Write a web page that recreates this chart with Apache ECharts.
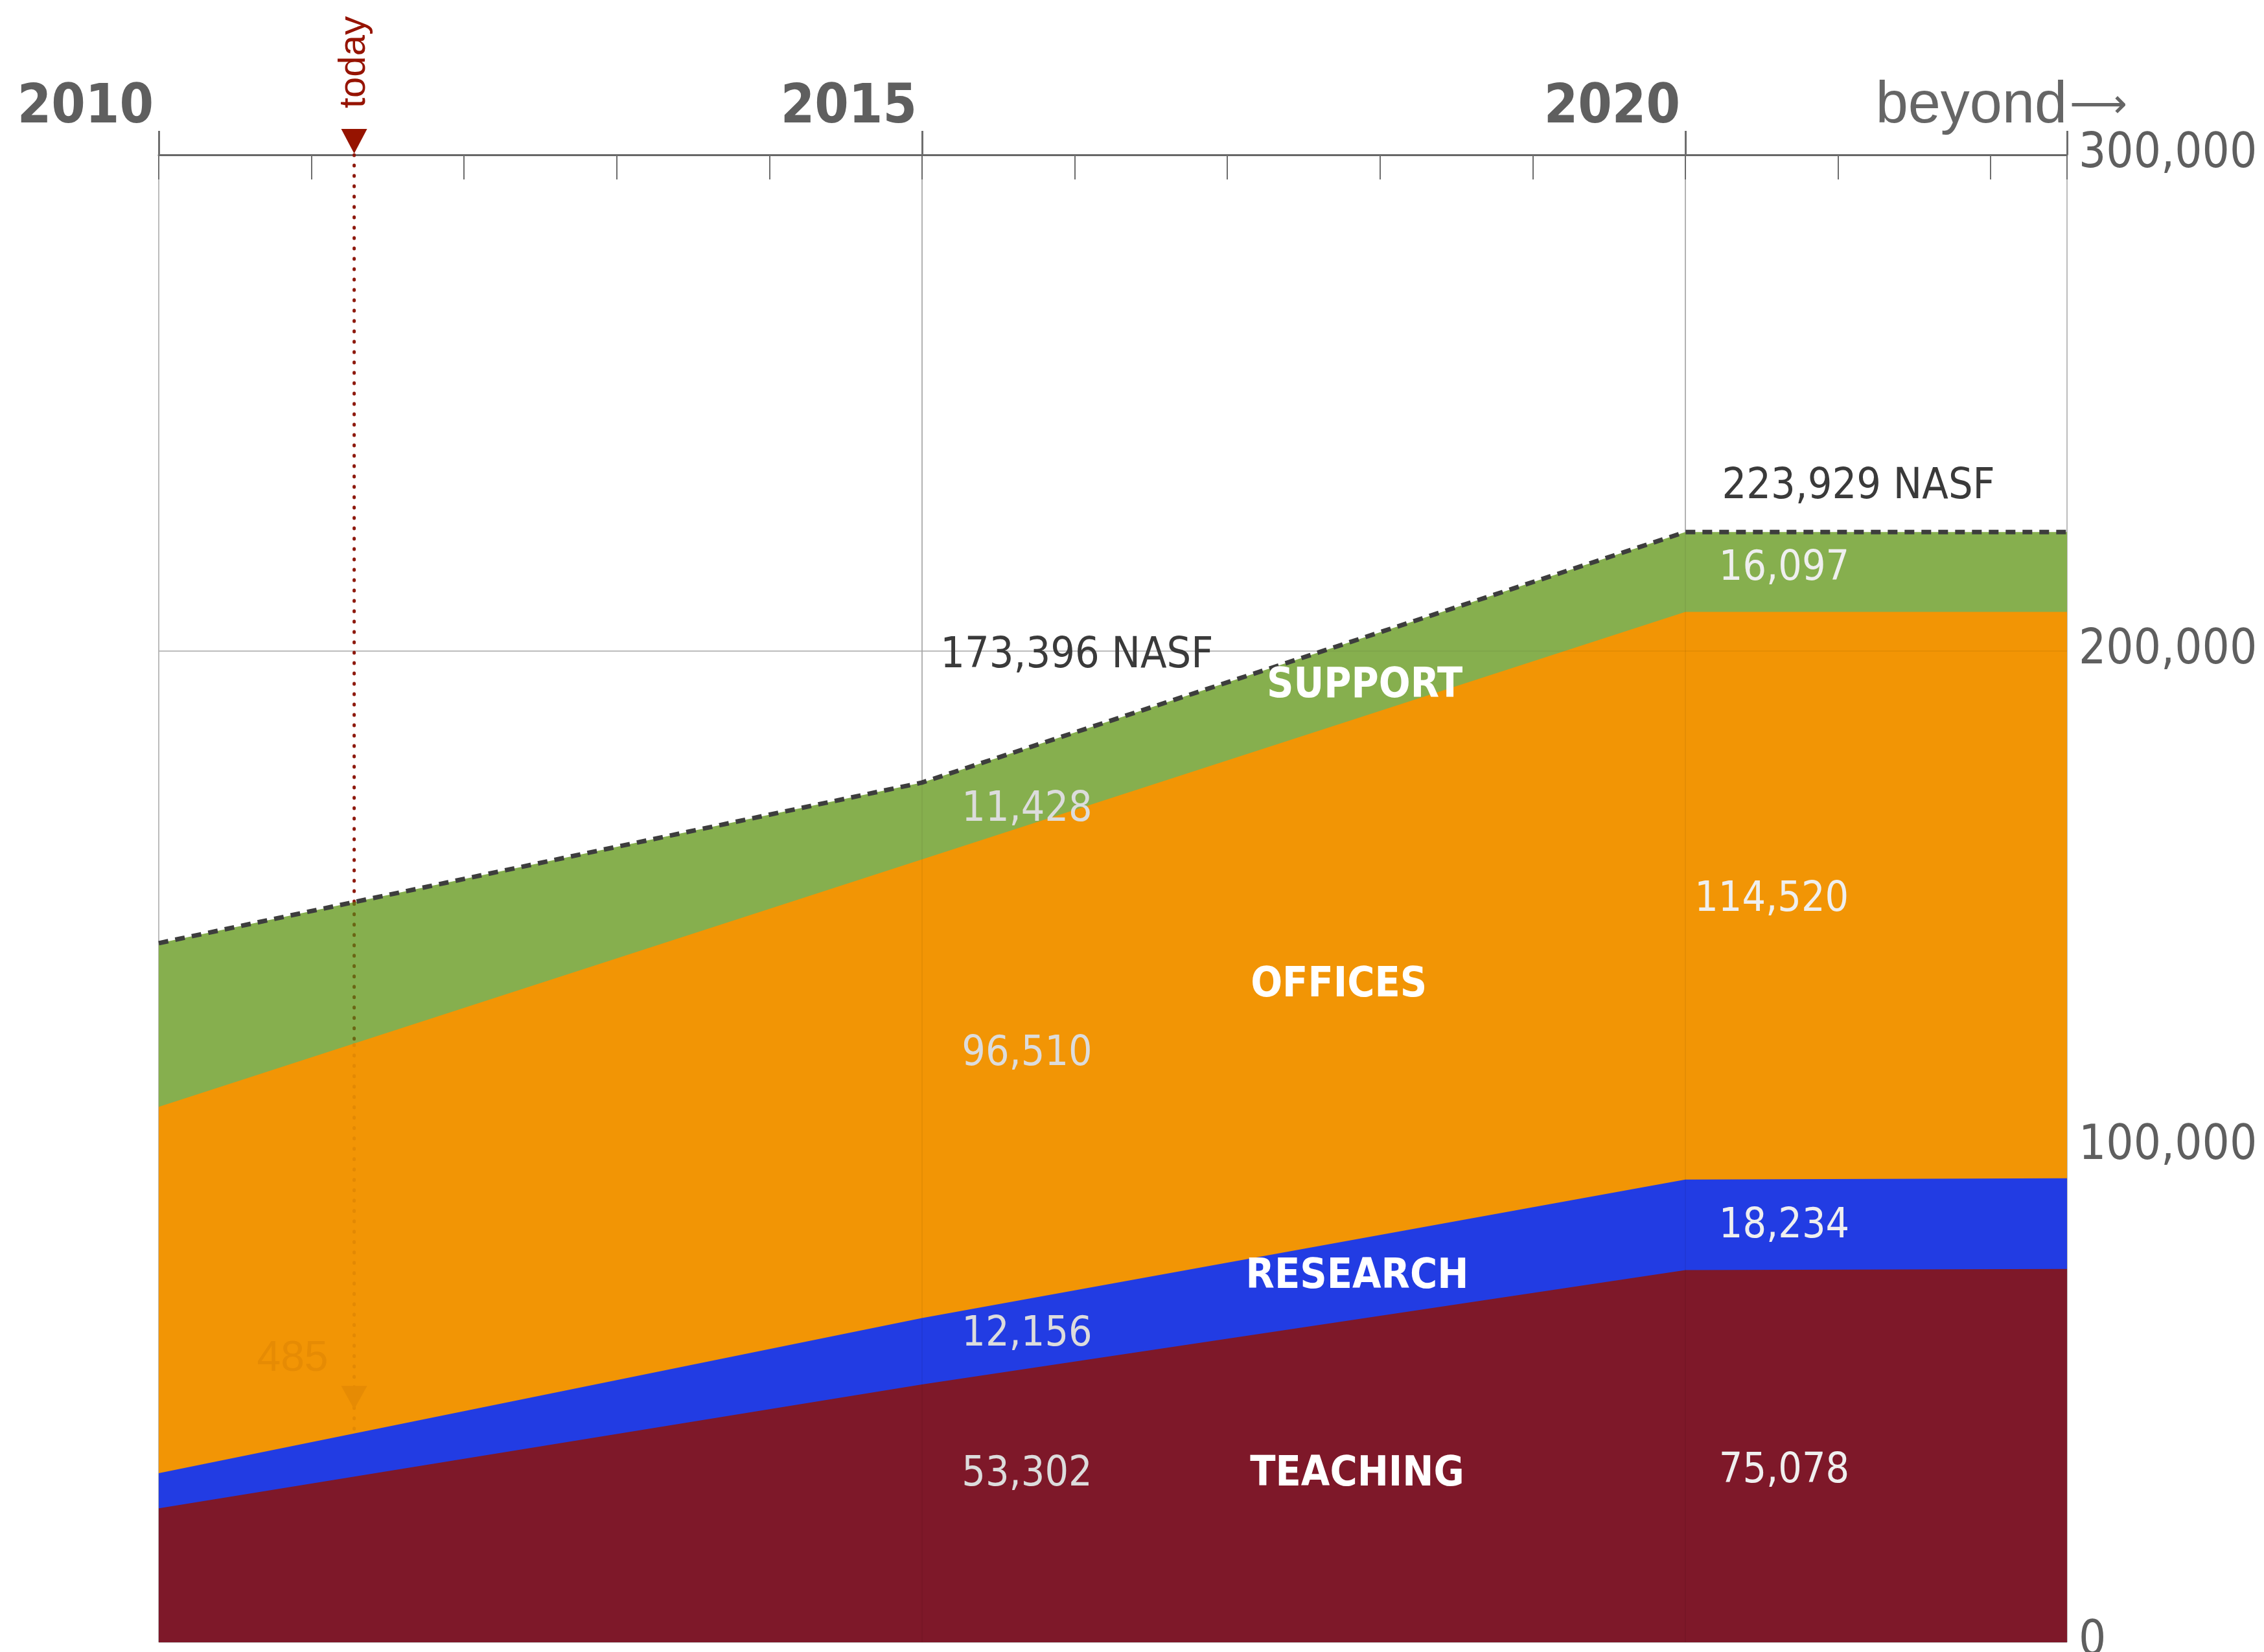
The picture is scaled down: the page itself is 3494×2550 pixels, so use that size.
<!DOCTYPE html>
<html>
<head>
<meta charset="utf-8">
<title>NASF projection</title>
<script src="https://cdn.jsdelivr.net/npm/echarts@6.0.0/dist/echarts.min.js"></script>
<style>
    html, body { margin: 0; padding: 0; background: #fff; }
    #main { width: 3494px; height: 2550px; }
</style>
</head>
<body>
<div id="main"></div>
<script>
// data points along the time axis, 2022.5 is the "beyond" edge
var years = [2010, 2015, 2020, 2022.5];
var teaching = [27000, 52000, 75078, 75300];
var research = [7100, 13400, 18234, 18300];
var offices = [73900, 92500, 114520, 114232];
var support = [33000, 15496, 16097, 16097];

var tickYears = [2010, 2011, 2012, 2013, 2014, 2015, 2016, 2017, 2018, 2019, 2020, 2021, 2022, 2022.5];
var labelYears = [2010, 2015, 2020, 2022.5];
var yMax = 300000;
var yStep = 100000;

// "today" marker
var todayYear = 2011.28;
var todayStops = [300000, 149000, 120500, 42000];
var lowMarkValue = 47000;
var lowMarkText = '485';

// annotations inside the chart
var noteText = ['223,929 NASF', '173,396 NASF', '16,097', '11,428', 'SUPPORT', '114,520', 'OFFICES',
    '96,510', '18,234', 'RESEARCH', '12,156', '75,078', 'TEACHING', '53,302'];
var noteX = [2020.24, 2015.12, 2020.22, 2015.26, 2017.90, 2020.06, 2017.73,
    2015.26, 2020.22, 2017.85, 2015.26, 2020.22, 2017.85, 2015.26];
var noteY = [233000, 198950, 216400, 167800, 192800, 149700, 132500,
    118550, 83900, 73700, 62000, 34400, 33800, 33800];
var noteKind = ['total', 'total', 'num20', 'num15', 'name', 'num20', 'name',
    'num15', 'num20', 'name', 'num15', 'num20', 'name', 'num15'];

var FONT = "'Liberation Sans Narrow', 'DejaVu Sans Condensed', Roboto, sans-serif";

init();

function init() {
    var chart = echarts.init(document.getElementById('main'));
    chart.setOption(buildOption());
}

// running totals, layer by layer (stack with a value x axis would sum the years)
function layerTops(layers) {
    var run = years.map(function () { return 0; });
    return layers.map(function (layer) {
        run = run.map(function (v, i) { return v + layer[i]; });
        return run.slice();
    });
}

function pairs(values) {
    return years.map(function (y, i) {
        return [y, values[i]];
    });
}

function areaSeries(name, values, color, extra) {
    var s = {
        name: name,
        type: 'line',
        symbol: 'none',
        silent: true,
        z: 2,
        data: pairs(values),
        lineStyle: {width: 0},
        areaStyle: {color: color, opacity: 1, origin: 'start'}
    };
    return Object.assign(s, extra || {});
}

function todaySegment(from, to, color, extra) {
    var s = {
        type: 'line',
        symbol: 'none',
        silent: true,
        z: 4,
        data: [[todayYear, from], [todayYear, to]],
        lineStyle: {color: color, width: 5, type: [1, 15], cap: 'round', opacity: 1}
    };
    return Object.assign(s, extra || {});
}

function buildOption() {
    var tops = layerTops([teaching, research, offices, support]);

    var noteStyles = {
        total: {color: '#3a3a3a', fontSize: 66, align: 'left'},
        num15: {color: '#dcdcdc', fontSize: 64, align: 'left'},
        num20: {color: '#efefef', fontSize: 64, align: 'left'},
        name: {color: '#ffffff', fontSize: 64, fontWeight: 'bold', align: 'center'}
    };
    var notes = noteText.map(function (t, i) {
        var st = noteStyles[noteKind[i]];
        return {
            value: [noteX[i], noteY[i]],
            label: {
                show: true,
                formatter: t,
                position: [0, 0],
                align: st.align,
                verticalAlign: 'middle',
                color: st.color,
                fontSize: st.fontSize,
                fontWeight: st.fontWeight || 'normal',
                fontFamily: FONT
            }
        };
    });

    return {
        backgroundColor: '#ffffff',
        animation: false,
        textStyle: {fontFamily: FONT},
        grid: {left: 245, right: 304, top: 239, bottom: 15, containLabel: false, outerBoundsMode: 'none'},
        xAxis: [
            {
                // main axis line with the small yearly ticks
                type: 'value', position: 'top', min: 2010, max: 2022.5,
                axisLine: {show: true, onZero: false, lineStyle: {color: '#666', width: 3}},
                axisTick: {show: true, inside: true, length: 38, customValues: tickYears,
                    lineStyle: {color: '#6e6e6e', width: 2}},
                axisLabel: {show: false},
                splitLine: {show: false}
            },
            {
                // major years: taller ticks, labels and vertical grid lines
                type: 'value', position: 'top', min: 2010, max: 2022.5,
                axisLine: {show: false, onZero: false},
                axisTick: {show: true, length: 37, customValues: labelYears,
                    lineStyle: {color: '#6e6e6e', width: 3}},
                axisLabel: {
                    show: true, customValues: labelYears, align: 'right', margin: 30,
                    formatter: function (v) {
                        return v > 2022 ? '{b|beyond}' : '{y|' + v + '}';
                    },
                    rich: {
                        y: {fontSize: 84, fontWeight: 'bold', color: '#5f5f5f', fontFamily: FONT, padding: [0, 8, 0, 0]},
                        b: {fontSize: 90, color: '#666666', fontFamily: "'Liberation Sans', sans-serif"}
                    }
                },
                splitLine: {show: true, lineStyle: {color: '#bcbcbc', width: 2}}
            }
        ],
        yAxis: {
            type: 'value', position: 'right', min: 0, max: yMax, interval: yStep,
            axisLine: {show: false, onZero: false},
            axisTick: {show: false},
            axisLabel: {
                margin: 18, fontSize: 74, color: '#5f5f5f', fontFamily: FONT,
                formatter: function (v) { return v.toLocaleString('en-US'); }
            },
            splitLine: {show: true, lineStyle: {color: '#c8c8c8', width: 2}}
        },
        series: [
            // drawn back to front: total first, teaching last
            areaSeries('SUPPORT', tops[3], '#86af4e', {
                lineStyle: {color: '#3d3d3d', width: 7, type: [15, 11]}
            }),
            areaSeries('OFFICES', tops[2], '#f29505'),
            areaSeries('RESEARCH', tops[1], '#223ce3'),
            areaSeries('TEACHING', tops[0], '#7e1829'),
            todaySegment(todayStops[0], todayStops[1], '#8e1a0e', {
                // faint grid lines showing through the areas
                markLine: {
                    silent: true, symbol: 'none', label: {show: false}, z: 3,
                    lineStyle: {color: 'rgba(0,0,0,0.05)', width: 2, type: 'solid'},
                    data: [{xAxis: 2015}, {xAxis: 2020}, {yAxis: 200000}]
                }
            }),
            todaySegment(todayStops[1], todayStops[2], '#6a6614'),
            todaySegment(todayStops[2], todayStops[3], '#e38904'),
            {
                type: 'scatter', silent: true, clip: false, z: 6,
                symbol: 'triangle', symbolRotate: 180, symbolSize: [40, 38], symbolOffset: [0, -21],
                itemStyle: {color: '#961300', opacity: 1},
                data: [[todayYear, yMax]]
            },
            {
                type: 'scatter', silent: true, clip: false, z: 6,
                symbol: 'triangle', symbolRotate: 180, symbolSize: [40, 36], symbolOffset: [0, -18],
                itemStyle: {color: '#e68b04', opacity: 1},
                data: [[todayYear, lowMarkValue]]
            },
            {
                type: 'scatter', silent: true, clip: false, z: 7, symbolSize: 0,
                itemStyle: {opacity: 1},
                data: [
                    {value: [todayYear, yMax], label: {show: true, formatter: 'today', position: [0, -72],
                        align: 'left', verticalAlign: 'middle', rotate: 90, color: '#961300',
                        fontSize: 58, fontFamily: "'Liberation Sans', sans-serif"}},
                    {value: [todayYear, lowMarkValue], label: {show: true, formatter: lowMarkText, position: [-40, -77],
                        align: 'right', verticalAlign: 'middle', color: '#e68b04',
                        fontSize: 66, fontFamily: "'Liberation Sans', sans-serif"}},
                    {value: [2022.5, yMax], label: {show: true, formatter: '\u27F6', position: [4, -74],
                        align: 'left', verticalAlign: 'middle', color: '#666666',
                        fontSize: 62, fontFamily: "'DejaVu Sans', sans-serif"}}
                ]
            },
            {
                type: 'scatter', silent: true, clip: false, z: 7, symbolSize: 0,
                itemStyle: {opacity: 1},
                data: notes
            }
        ]
    };
}
</script>
</body>
</html>
